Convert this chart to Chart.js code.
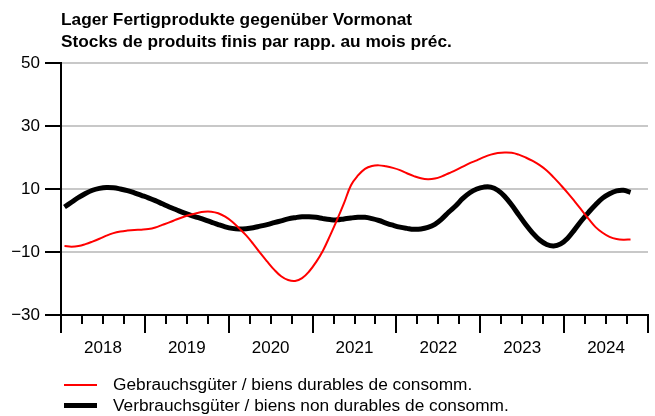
<!DOCTYPE html>
<html>
<head>
<meta charset="utf-8">
<script src="https://cdn.jsdelivr.net/npm/chart.js@4"></script>
<style>
    html, body { margin: 0; padding: 0; background: #fff; }
    #wrap { position: relative; width: 655px; height: 416px; font-family: "Liberation Sans", Arial, sans-serif; color: #000; }
    #chart { position: absolute; left: 0; top: 0; }
    #title { position: absolute; left: 61px; top: 8px; font-weight: bold; font-size: 17.3px; line-height: 22px; }
    #legend { position: absolute; left: 64px; top: 374px; font-size: 17.3px; line-height: 21px; }
    #legend .row { display: flex; align-items: center; }
    #legend .swatch { width: 33px; margin-right: 16px; }
</style>
</head>
<body>
<div id="wrap">
    <canvas id="chart" width="655" height="416"></canvas>
    <div id="title">Lager Fertigprodukte gegenüber Vormonat<br>Stocks de produits finis par rapp. au mois préc.</div>
    <div id="legend">
        <div class="row"><span class="swatch" style="border-top:2px solid #ff0000"></span>Gebrauchsgüter / biens durables de consomm.</div>
        <div class="row"><span class="swatch" style="border-top:5px solid #000"></span>Verbrauchsgüter / biens non durables de consomm.</div>
    </div>
</div>
<script>
{
    // monthly values, Jan 2018 .. Oct 2024
    const YEARS = ['2018', '2019', '2020', '2021', '2022', '2023', '2024'];
    const Y_TICKS = [-30, -10, 10, 30, 50];

    const DURABLE = [
        -8.1, -8.3, -8.1, -7.5, -6.7, -5.8, -4.8, -4.0, -3.5, -3.2, -3.0, -2.9,
        -2.7, -2.2, -1.4, -0.6, 0.3, 1.1, 1.8, 2.4, 2.8, 2.8, 2.3, 1.2,
        -0.4, -2.5, -4.7, -7.4, -10.3, -13.0, -15.6, -17.7, -18.9, -19.2, -18.3, -16.2,
        -13.2, -9.5, -4.8, 0.2, 5.5, 11.2, 14.3, 16.4, 17.3, 17.5, 17.2, 16.7,
        16.0, 15.0, 14.1, 13.4, 13.1, 13.3, 14.0, 15.0, 16.0, 17.1, 18.2, 19.1,
        20.1, 20.9, 21.4, 21.6, 21.5, 20.9, 20.0, 18.9, 17.6, 15.9, 13.7, 11.3,
        8.8, 6.1, 3.3, 0.5, -2.1, -3.9, -5.2, -5.9, -6.1, -6.0
    ];

    const NON_DURABLE = [
        4.3, 5.8, 7.3, 8.6, 9.6, 10.2, 10.5, 10.4, 10.0, 9.5, 8.8, 8.0,
        7.2, 6.3, 5.3, 4.3, 3.4, 2.5, 1.7, 1.0, 0.3, -0.5, -1.3, -2.0,
        -2.5, -2.7, -2.6, -2.3, -1.8, -1.3, -0.7, -0.1, 0.5, 0.9, 1.2, 1.2,
        1.0, 0.6, 0.3, 0.2, 0.5, 0.8, 1.0, 1.0, 0.6, 0.0, -0.8, -1.5,
        -2.1, -2.5, -2.8, -2.7, -2.2, -1.2, 0.5, 2.7, 4.7, 7.0, 8.8, 10.0,
        10.6, 10.6, 9.6, 7.6, 4.9, 1.8, -1.3, -4.0, -6.2, -7.6, -8.1, -7.4,
        -5.6, -2.9, 0.0, 2.6, 5.0, 7.1, 8.5, 9.4, 9.6, 8.9
    ];

    const toPoints = arr => arr.map((v, i) => ({ x: i + 0.5, y: v }));

    // quarterly tick marks under the x axis, longer at year boundaries
    const xTickMarks = {
        id: 'xTickMarks',
        afterDraw(chart) {
            const ctx = chart.ctx;
            const xs = chart.scales.x;
            const y0 = chart.chartArea.bottom;
            ctx.save();
            ctx.strokeStyle = '#000';
            ctx.lineWidth = 2;
            for (let m = 0; m <= YEARS.length * 12; m += 3) {
                const px = Math.round(xs.getPixelForValue(m));
                const len = m % 12 === 0 ? 18 : 9;
                ctx.beginPath();
                ctx.moveTo(px, y0);
                ctx.lineTo(px, y0 + len);
                ctx.stroke();
            }
            ctx.restore();
        }
    };

    Chart.defaults.font.family = '"Liberation Sans", Arial, sans-serif';
    Chart.defaults.color = '#000';

    new Chart(document.getElementById('chart'), {
        type: 'line',
        data: {
            datasets: [
                {
                    label: 'Gebrauchsgüter / biens durables de consomm.',
                    data: toPoints(DURABLE),
                    borderColor: '#ff0000',
                    borderWidth: 2,
                    pointRadius: 0,
                    tension: 0.4
                },
                {
                    label: 'Verbrauchsgüter / biens non durables de consomm.',
                    data: toPoints(NON_DURABLE),
                    borderColor: '#000',
                    borderWidth: 5,
                    pointRadius: 0,
                    tension: 0.4
                }
            ]
        },
        options: {
            responsive: false,
            animation: false,
            layout: { padding: { top: 63, right: 7, left: 0, bottom: 0 } },
            plugins: {
                legend: { display: false },
                title: { display: false },
                tooltip: { enabled: false }
            },
            scales: {
                x: {
                    type: 'linear',
                    min: 0,
                    max: YEARS.length * 12,
                    afterBuildTicks: scale => {
                        scale.ticks = YEARS.map((y, i) => ({ value: i * 12 + 6 }));
                    },
                    afterFit: scale => { scale.height = 101; },
                    ticks: {
                        autoSkip: false,
                        maxRotation: 0,
                        padding: 23,
                        font: { size: 17 },
                        callback: v => YEARS[Math.round((v - 6) / 12)]
                    },
                    grid: { display: true, drawOnChartArea: false, drawTicks: false },
                    border: { color: '#000', width: 2 }
                },
                y: {
                    min: -30,
                    max: 50,
                    afterBuildTicks: scale => {
                        scale.ticks = Y_TICKS.map(v => ({ value: v }));
                    },
                    afterFit: scale => { scale.width = 61; },
                    ticks: {
                        padding: 5,
                        font: { size: 17 },
                        callback: v => v < 0 ? '\u2212' + Math.abs(v) : String(v)
                    },
                    grid: {
                        color: ctx => ctx.tick && ctx.tick.value === -30 ? 'rgba(0,0,0,0)' : '#c8c8c8',
                        lineWidth: 2,
                        tickLength: 16,
                        tickColor: '#000',
                        tickWidth: 2
                    },
                    border: { color: '#000', width: 2 }
                }
            }
        },
        plugins: [xTickMarks]
    });
}
</script>
</body>
</html>
